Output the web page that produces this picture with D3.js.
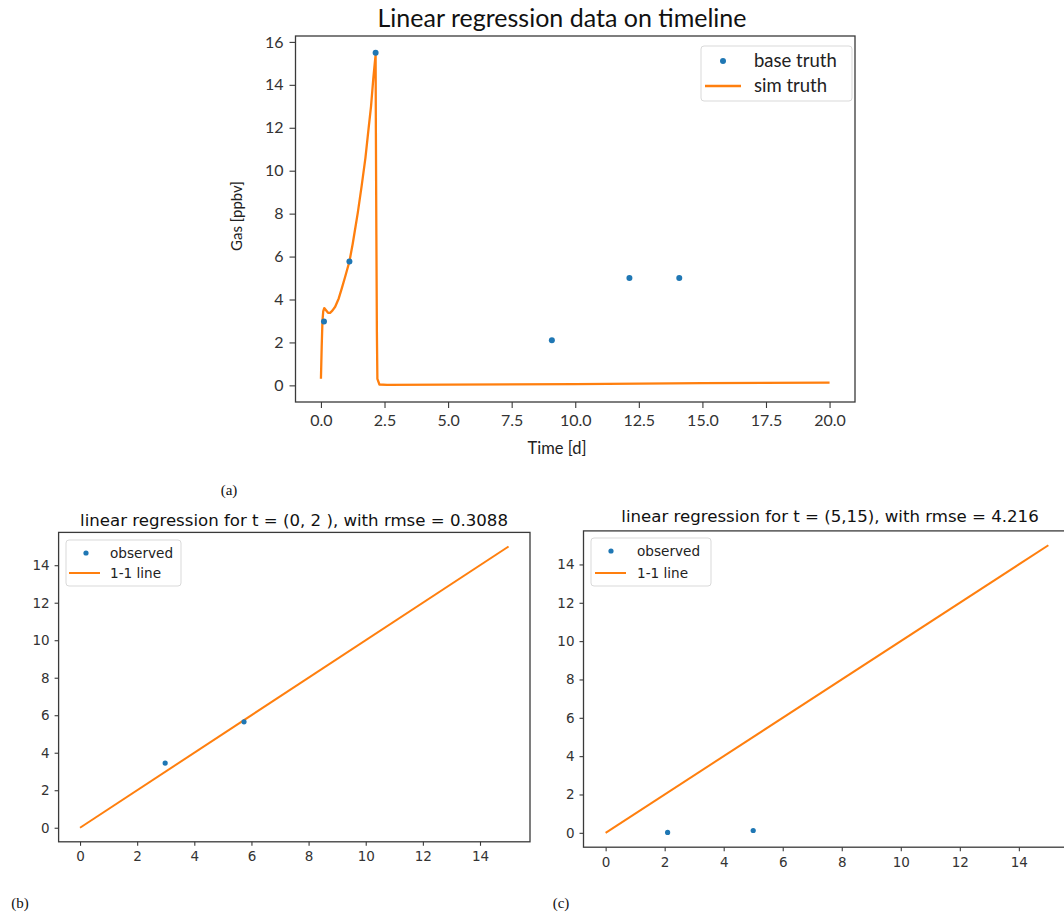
<!DOCTYPE html>
<html><head><meta charset="utf-8">
<script src="https://cdn.jsdelivr.net/npm/d3@7"></script>
<style>
html,body{margin:0;padding:0;background:#fff;}
svg{display:block;}
</style></head>
<body>
<svg id="c" width="1064" height="913"></svg>
<script>
// ---------- Panel (a) data ----------
const baseT = [0.12, 1.12, 2.15, 9.08, 12.13, 14.09];
const baseGas = [2.97, 5.77, 15.5, 2.1, 5.0, 5.0];
const simT = [0, 0.03, 0.06, 0.09, 0.13, 0.2, 0.28, 0.36, 0.45, 0.56, 0.7, 0.82, 0.95, 1.12, 1.25, 1.34, 1.45, 1.6, 1.75, 1.87, 1.97, 2.06, 2.12, 2.15, 2.16, 2.18, 2.2, 2.22, 2.3, 2.6, 5, 10, 15, 20];
const simGas = [0.31, 1.8, 3.0, 3.45, 3.6, 3.5, 3.38, 3.38, 3.48, 3.66, 4.05, 4.52, 5.05, 5.77, 6.6, 7.25, 8.05, 9.28, 10.6, 11.93, 13.0, 14.3, 15.05, 15.4, 12.0, 7.0, 2.5, 0.3, 0.04, 0.02, 0.03, 0.06, 0.1, 0.13];
const aXTicks = [0, 2.5, 5, 7.5, 10, 12.5, 15, 17.5, 20];
const aYTicks = [0, 2, 4, 6, 8, 10, 12, 14, 16];

// ---------- Panel (b) data ----------
const bObsX = [2.98, 5.74];
const bObsY = [3.45, 5.65];
// ---------- Panel (c) data ----------
const cObsX = [2.1, 5.0];
const cObsY = [0.02, 0.12];
// shared 1-1 line and ticks
const oneLineX = [0, 15];
const oneLineY = [0, 15];
const bcTicks = [0, 2, 4, 6, 8, 10, 12, 14];

const BLUE = "#1f77b4", ORANGE = "#ff7f0e", AX = "#3a3a3a";
const svg = d3.select("#c");

function panel(o) {
  const g = svg.append("g");
  const x = d3.scaleLinear().domain(o.xdom).range([o.left, o.right]);
  const y = d3.scaleLinear().domain(o.ydom).range([o.bottom, o.top]);
  const cid = "clip" + Math.random().toString(36).slice(2);
  g.append("clipPath").attr("id", cid).append("rect")
    .attr("x", o.left).attr("y", o.top).attr("width", o.right - o.left).attr("height", o.bottom - o.top);
  const plot = g.append("g").attr("clip-path", `url(#${cid})`);
  const line = d3.line().x(d => x(d[0])).y(d => y(d[1]));
  plot.append("path").datum(d3.zip(o.lx, o.ly)).attr("d", line)
    .attr("fill", "none").attr("stroke", ORANGE).attr("stroke-width", o.lw).attr("stroke-linejoin", "round");
  plot.selectAll("circle.pt").data(d3.zip(o.px, o.py)).join("circle")
    .attr("cx", d => x(d[0])).attr("cy", d => y(d[1])).attr("r", o.r).attr("fill", BLUE);
  const xa = g.append("g").attr("transform", `translate(0,${o.bottom})`)
    .call(d3.axisBottom(x).tickValues(o.xticks).tickFormat(o.xfmt).tickSize(o.tick).tickPadding(o.xpad));
  const ya = g.append("g").attr("transform", `translate(${o.left},0)`)
    .call(d3.axisLeft(y).tickValues(o.yticks).tickFormat(o.yfmt).tickSize(o.tick).tickPadding(o.ypad));
  [xa, ya].forEach(a => {
    a.select(".domain").remove();
    a.selectAll("line").attr("stroke", AX).attr("stroke-width", 1.1);
    a.selectAll("text").attr("fill", "#333").style("font-family", o.font).style("font-size", o.fs + "px");
  });
  g.append("rect").attr("x", o.left).attr("y", o.top).attr("width", o.right - o.left).attr("height", o.bottom - o.top)
    .attr("fill", "none").attr("stroke", AX).attr("stroke-width", 1.3);
  g.append("text").attr("x", o.titleX).attr("y", o.titleY).attr("text-anchor", "middle")
    .style("font-family", o.font).style("font-size", o.tfs + "px").attr("fill", "#111").text(o.title);
  const L = o.leg;
  g.append("rect").attr("x", L.x).attr("y", L.y).attr("width", L.w).attr("height", L.h).attr("rx", 3)
    .attr("fill", "#fff").attr("fill-opacity", 0.8).attr("stroke", "#d9d9d9");
  g.append("circle").attr("cx", L.mx).attr("cy", L.y1).attr("r", o.r).attr("fill", BLUE);
  g.append("line").attr("x1", L.l1).attr("x2", L.l2).attr("y1", L.y2).attr("y2", L.y2)
    .attr("stroke", ORANGE).attr("stroke-width", o.lw);
  [[o.names[0], L.y1], [o.names[1], L.y2]].forEach(([t, yy]) => {
    g.append("text").attr("x", L.tx).attr("y", yy).attr("dy", "0.35em")
      .style("font-family", o.font).style("font-size", L.fs + "px").attr("fill", "#222").text(t);
  });
  return {g, x, y};
}

// Panel (a)
const A = panel({
  xdom: [-1, 21], ydom: [-0.775, 16.275],
  left: 295.5, right: 855, top: 36, bottom: 402,
  lx: simT, ly: simGas, px: baseT, py: baseGas, r: 3, lw: 2.3,
  xticks: aXTicks, yticks: aYTicks, xfmt: d3.format(".1f"), yfmt: d3.format("d"),
  tick: 6, xpad: 7, ypad: 6, font: "Lato, 'Open Sans', sans-serif", fs: 16, tfs: 25,
  title: "Linear regression data on timeline", titleX: 562, titleY: 27,
  names: ["base truth", "sim truth"],
  leg: {x: 701, y: 46, w: 151, h: 55, mx: 723, l1: 705, l2: 741, tx: 754, y1: 61, y2: 86, fs: 18.5}
});
A.g.append("text").attr("transform", "translate(242,216) rotate(-90)").attr("text-anchor", "middle")
  .style("font-family", "Lato, sans-serif").style("font-size", "15px").attr("fill", "#222").text("Gas [ppbv]");
A.g.append("text").attr("x", 557).attr("y", 454).attr("text-anchor", "middle")
  .style("font-family", "Lato, sans-serif").style("font-size", "16.5px").attr("fill", "#222").text("Time [d]");

// Panel (b)
panel({
  xdom: [-0.75, 15.75], ydom: [-0.75, 15.75],
  left: 58.6, right: 530, top: 532.4, bottom: 841.8,
  lx: oneLineX, ly: oneLineY, px: bObsX, py: bObsY, r: 2.6, lw: 2,
  xticks: bcTicks, yticks: bcTicks, xfmt: d3.format("d"), yfmt: d3.format("d"),
  tick: 4, xpad: 6, ypad: 5, font: "'DejaVu Sans', sans-serif", fs: 13.5, tfs: 16.6,
  title: "linear regression for t = (0, 2 ), with rmse = 0.3088", titleX: 294, titleY: 526,
  names: ["observed", "1-1 line"],
  leg: {x: 66, y: 540, w: 115, h: 46, mx: 86, l1: 69, l2: 100, tx: 110, y1: 553, y2: 573, fs: 13.6}
});

// Panel (c)
panel({
  xdom: [-0.75, 15.75], ydom: [-0.75, 15.75],
  left: 583.5, right: 1070.5, top: 530.9, bottom: 847.2,
  lx: oneLineX, ly: oneLineY, px: cObsX, py: cObsY, r: 2.6, lw: 2,
  xticks: bcTicks, yticks: bcTicks, xfmt: d3.format("d"), yfmt: d3.format("d"),
  tick: 4, xpad: 6, ypad: 5, font: "'DejaVu Sans', sans-serif", fs: 13.5, tfs: 16.6,
  title: "linear regression for t = (5,15), with rmse = 4.216", titleX: 830, titleY: 522,
  names: ["observed", "1-1 line"],
  leg: {x: 591, y: 538, w: 120, h: 48, mx: 611, l1: 595, l2: 626, tx: 637, y1: 551, y2: 573, fs: 13.6}
});

// subfigure labels
[["(a)", 229, 495], ["(b)", 20, 908], ["(c)", 561, 908]].forEach(([t, xx, yy]) => {
  svg.append("text").attr("x", xx).attr("y", yy).attr("text-anchor", "middle")
    .style("font-family", "'Liberation Serif', 'DejaVu Serif', serif").style("font-size", "15px").attr("fill", "#111").text(t);
});
</script>
</body></html>
